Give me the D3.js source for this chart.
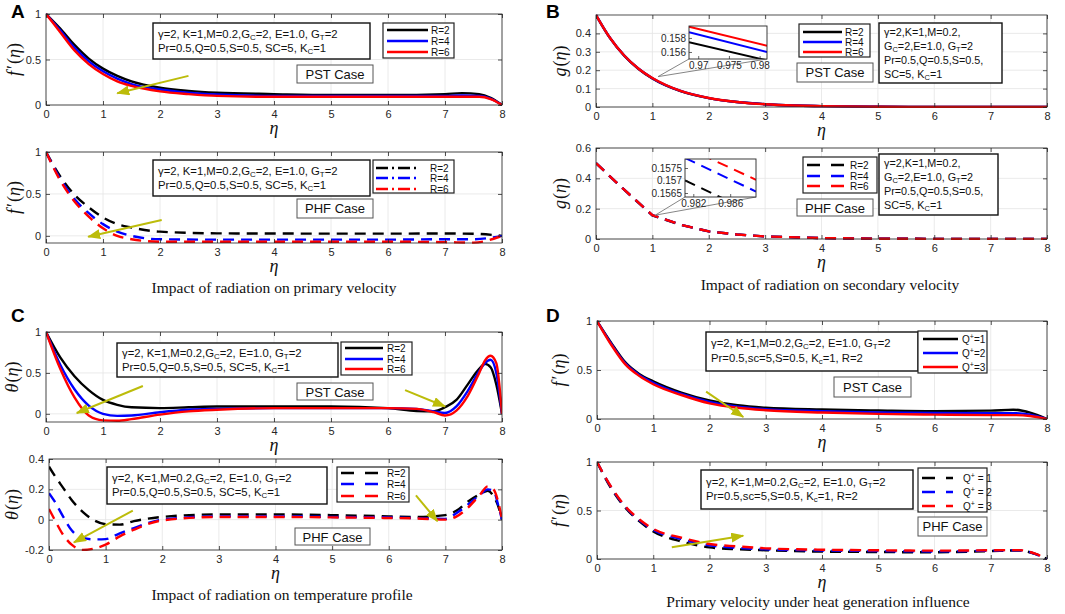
<!DOCTYPE html>
<html><head><meta charset="utf-8">
<script src="https://cdn.jsdelivr.net/npm/d3@7"></script>
<style>body{margin:0;background:#fff}svg{display:block}</style>
</head><body>
<svg id="c" width="1065" height="614"></svg>
<script>
// ---------------- DATA ----------------
const xTicks = [0,1,2,3,4,5,6,7,8];

// A (PST): f'(eta), R = 2, 4, 6
const etaA1 = [0,0.25,0.5,0.75,1,1.25,1.5,2,2.5,3,4,5,6,7,7.3,7.6,7.8,8];
const fA1_R2 = [1,0.84,0.66,0.51,0.40,0.32,0.26,0.19,0.155,0.135,0.12,0.11,0.11,0.12,0.13,0.12,0.08,0];
const fA1_R4 = [1,0.82,0.63,0.48,0.37,0.29,0.23,0.17,0.135,0.115,0.10,0.10,0.10,0.10,0.105,0.10,0.07,0];
const fA1_R6 = [1,0.80,0.60,0.45,0.34,0.26,0.21,0.15,0.12,0.10,0.09,0.09,0.09,0.09,0.09,0.09,0.065,0];

// A (PHF)
const etaA2 = [0,0.25,0.5,0.75,1,1.25,1.5,2,3,4,5,6,7,7.5,8];
const fA2_R2 = [1,0.71,0.49,0.34,0.22,0.14,0.10,0.05,0.03,0.028,0.027,0.027,0.028,0.025,0];
const fA2_R4 = [1,0.68,0.44,0.27,0.14,0.05,0.0,-0.04,-0.045,-0.045,-0.045,-0.045,-0.04,-0.04,0];
const fA2_R6 = [1,0.66,0.41,0.23,0.09,0.0,-0.04,-0.07,-0.07,-0.07,-0.07,-0.07,-0.075,-0.08,0];

// B (PST): g(eta)
const etaB1 = [0,0.25,0.5,0.75,1,1.5,2,2.5,3,3.5,4,5,6,7,8];
const gB1_R2 = [0.5,0.374,0.279,0.208,0.155,0.086,0.048,0.027,0.015,0.008,0.005,0.0015,0.0005,0,0];
const gB1_R4 = [0.5,0.375,0.280,0.209,0.1565,0.087,0.0485,0.027,0.015,0.008,0.005,0.0015,0.0005,0,0];
const gB1_R6 = [0.5,0.375,0.280,0.2095,0.1575,0.0875,0.049,0.0275,0.015,0.008,0.005,0.0015,0.0005,0,0];
const insB1_eta = [0.9685,0.9812];
const insB1_R2 = [0.1574,0.1548];
const insB1_R4 = [0.1588,0.1560];
const insB1_R6 = [0.1596,0.1569];

// B (PHF)
const etaB2 = [0,0.5,1,1.5,2,2.5,3,4,5,6,7,8];
const gB2_R2 = [0.5,0.325,0.156,0.094,0.05,0.03,0.017,0.006,0.002,0.001,0,0];
const gB2_R4 = [0.5,0.325,0.157,0.094,0.05,0.03,0.017,0.006,0.002,0.001,0,0];
const gB2_R6 = [0.5,0.325,0.1575,0.094,0.05,0.03,0.017,0.006,0.002,0.001,0,0];
const insB2_eta = [0.9811,0.9888];
const insB2_R2 = [0.1570,0.15566];
const insB2_R4 = [0.1579,0.15656];
const insB2_R6 = [0.15834,0.15703];

// C (PST): theta(eta)
const etaC1 = [0,0.25,0.5,0.75,1,1.25,1.5,2,2.5,3,4,5,6,6.5,6.8,7,7.2,7.4,7.6,7.7,7.8,7.9,8];
const tC1_R2 = [1,0.69,0.46,0.29,0.17,0.11,0.08,0.07,0.08,0.09,0.09,0.09,0.07,0.035,0.03,0.08,0.17,0.36,0.55,0.61,0.57,0.36,0];
const tC1_R4 = [1,0.60,0.30,0.10,0.00,-0.025,-0.02,0.02,0.05,0.06,0.07,0.07,0.07,0.06,0.03,0.01,0.09,0.28,0.52,0.62,0.66,0.5,0];
const tC1_R6 = [1,0.55,0.20,-0.02,-0.08,-0.085,-0.065,-0.01,0.03,0.05,0.07,0.07,0.07,0.06,0.02,-0.02,0.04,0.22,0.5,0.65,0.71,0.62,0];

// C (PHF)
const etaC2 = [0,0.1,0.25,0.4,0.6,0.8,1,1.25,1.5,2,3,4,5,6,6.5,7,7.2,7.4,7.6,7.75,7.85,7.95,8];
const tC2_R2 = [0.35,0.29,0.21,0.13,0.05,-0.005,-0.03,-0.033,-0.01,0.018,0.035,0.035,0.03,0.022,0.018,0.03,0.06,0.12,0.165,0.19,0.155,0.07,0];
const tC2_R4 = [0.175,0.12,0.02,-0.07,-0.12,-0.13,-0.128,-0.09,-0.055,0.0,0.022,0.022,0.018,0.015,0.01,0.005,0.044,0.1,0.16,0.2,0.19,0.07,0];
const tC2_R6 = [0.07,0.0,-0.1,-0.165,-0.2,-0.19,-0.165,-0.11,-0.066,-0.005,0.018,0.018,0.015,0.011,0.008,0.0,0.022,0.08,0.16,0.22,0.2,0.09,0];

// D (PST): f'(eta), Q+ = 1, 2, 3
const etaD1 = [0,0.25,0.5,0.75,1,1.5,2,2.5,3,4,5,6,7,7.4,7.7,8];
const fD1_Q1 = [1,0.78,0.58,0.46,0.385,0.27,0.19,0.14,0.115,0.097,0.087,0.08,0.085,0.095,0.065,0];
const fD1_Q2 = [1,0.77,0.57,0.45,0.37,0.255,0.175,0.125,0.10,0.08,0.068,0.062,0.06,0.06,0.045,0];
const fD1_Q3 = [1,0.76,0.56,0.44,0.355,0.245,0.16,0.115,0.09,0.066,0.052,0.045,0.04,0.04,0.03,0];

// D (PHF)
const etaD2 = [0,0.25,0.5,0.75,1,1.5,2,2.5,3,4,5,6,7,7.5,7.8,8];
const fD2_Q1 = [1,0.73,0.53,0.39,0.285,0.18,0.12,0.10,0.09,0.076,0.072,0.069,0.082,0.088,0.05,0];
const fD2_Q2 = [1,0.74,0.54,0.40,0.30,0.205,0.14,0.115,0.10,0.088,0.082,0.078,0.086,0.09,0.05,0];
const fD2_Q3 = [1,0.745,0.545,0.41,0.31,0.22,0.155,0.13,0.11,0.096,0.09,0.086,0.09,0.092,0.052,0];

// text content
const legR = ['R=2','R=4','R=6'];
const legQ1 = ['Q^+=1','Q^+=2','Q^+=3'];
const legQ2 = ['Q^+ = 1','Q^+ = 2','Q^+ = 3'];
const parA = ['γ=2, K=1,M=0.2,G_C=2, E=1.0, G_T=2','Pr=0.5,Q=0.5,S=0.5, SC=5, K_C=1'];
const parB = ['γ=2,K=1,M=0.2,','G_C=2,E=1.0, G_T=2','Pr=0.5,Q=0.5,S=0.5,','SC=5, K_C=1'];
const parD = ['γ=2, K=1,M=0.2,G_C=2, E=1.0, G_T=2','Pr=0.5,sc=5,S=0.5, K_c=1, R=2'];
const captions = ['Impact of radiation on primary velocity','Impact of radiation on secondary velocity','Impact of radiation on temperature profile','Primary velocity under heat generation influence'];

// ---------------- DRAWING ----------------
const svg = d3.select('#c');
const SANS = 'Liberation Sans, Arial, sans-serif';
const SERIF = 'Liberation Serif, Times New Roman, serif';
const AX = '#262626';
const ARROW = '#bcbc0a';
const COLORS = ['#000000','#0000ff','#ff0000'];
const DASH = '11,7', DASHDOT = '11,7';

const defs = svg.append('defs');
defs.append('marker').attr('id','ah').attr('markerUnits','userSpaceOnUse')
  .attr('markerWidth',14).attr('markerHeight',12).attr('refX',12).attr('refY',5)
  .attr('orient','auto').append('path').attr('d','M0,0L13,5L0,10Z').attr('fill',ARROW);

function rich(sel, str, fs){
  const parts=[]; let buf=''; let i=0;
  while(i<str.length){const ch=str[i];
    if(ch==='_'||ch==='^'){ if(buf){parts.push(['n',buf]);buf='';} i++; let s;
      if(str[i]==='{'){const j=str.indexOf('}',i); s=str.slice(i+1,j); i=j+1;} else {s=str[i]; i++;}
      parts.push([ch==='_'?'sub':'sup',s]); }
    else {buf+=ch;i++;}
  }
  if(buf) parts.push(['n',buf]);
  let off=0;
  parts.forEach(([k,s])=>{
    const tgt = k==='sub'? fs*0.22 : k==='sup'? -fs*0.4 : 0;
    const ts = sel.append('tspan').text(s).attr('dy',tgt-off);
    if(k!=='n') ts.attr('font-size',fs*0.7);
    off=tgt;
  });
}

function mathLabel(sel, parts){
  parts.forEach(([t,it,dx])=>sel.append('tspan').text(t).attr('font-style',it?'italic':'normal').attr('dx',dx||0));
}
const fpLab = [['f',1],['′',0,2],['(',0,1],['η',1],[')',0]];
const gLab = [['g',1],['(',0,1],['η',1],[')',0]];
const thLab = [['θ',1],['(',0,1],['η',1],[')',0]];

function styleAxis(g){
  g.select('.domain').remove();
  g.selectAll('line').attr('stroke',AX).attr('stroke-width',0.8);
  g.selectAll('text').attr('fill',AX).attr('font-family',SANS).attr('font-size',11);
}

function drawPanel(p){
  const g = svg.append('g');
  const x = d3.scaleLinear().domain([0,8]).range([p.l,p.r]);
  const y = d3.scaleLinear().domain(p.yd).range([p.b,p.t]);
  p.x=x; p.y=y;
  g.append('rect').attr('x',p.l).attr('y',p.t).attr('width',p.r-p.l).attr('height',p.b-p.t).attr('fill','#fff');
  g.selectAll(null).data(xTicks).join('line').attr('x1',d=>x(d)).attr('x2',d=>x(d)).attr('y1',p.t).attr('y2',p.b)
    .attr('stroke','#e4e4e4').attr('stroke-width',0.8);
  g.selectAll(null).data(p.yt).join('line').attr('y1',d=>y(d)).attr('y2',d=>y(d)).attr('x1',p.l).attr('x2',p.r)
    .attr('stroke','#e4e4e4').attr('stroke-width',0.8);
  const cid='clip'+p.id;
  defs.append('clipPath').attr('id',cid).append('rect').attr('x',p.l).attr('y',p.t-1).attr('width',p.r-p.l).attr('height',p.b-p.t+2);
  const line = d3.line().x(d=>x(d[0])).y(d=>y(d[1])).curve(p.curve||d3.curveMonotoneX);
  p.ser.forEach((v,k)=>{
    g.append('path').datum(d3.zip(p.eta,v)).attr('d',line).attr('fill','none')
      .attr('stroke',COLORS[k]).attr('stroke-width',2.4).attr('stroke-dasharray',p.dash||null)
      .attr('clip-path',`url(#${cid})`);
  });
  g.append('g').attr('transform',`translate(0,${p.b})`)
    .call(d3.axisBottom(x).tickValues(xTicks).tickSizeInner(-4).tickSizeOuter(0).tickPadding(5).tickFormat(d=>String(d))).call(styleAxis);
  g.append('g').attr('transform',`translate(0,${p.t})`)
    .call(d3.axisTop(x).tickValues(xTicks).tickSizeInner(-4).tickSizeOuter(0).tickFormat('')).call(styleAxis);
  g.append('g').attr('transform',`translate(${p.l},0)`)
    .call(d3.axisLeft(y).tickValues(p.yt).tickSizeInner(-4).tickSizeOuter(0).tickPadding(5).tickFormat(d=>String(d))).call(styleAxis);
  g.append('g').attr('transform',`translate(${p.r},0)`)
    .call(d3.axisRight(y).tickValues(p.yt).tickSizeInner(-4).tickSizeOuter(0).tickFormat('')).call(styleAxis);
  g.append('rect').attr('x',p.l).attr('y',p.t).attr('width',p.r-p.l).attr('height',p.b-p.t)
    .attr('fill','none').attr('stroke',AX).attr('stroke-width',0.8);
  g.append('text').attr('x',(p.l+p.r)/2).attr('y',p.b+29).attr('text-anchor','middle')
    .attr('font-family',SERIF).attr('font-size',18).attr('font-style','italic').attr('fill','#111').text('η');
  const yl = g.append('text').attr('transform',`translate(${p.ylx},${(p.t+p.b)/2}) rotate(-90)`)
    .attr('text-anchor','middle').attr('font-family',SERIF).attr('font-size',18).attr('fill','#111');
  mathLabel(yl,p.ylab);
  return p;
}

function textBox(b, lines, fs, dy, opts={}){
  svg.append('rect').attr('x',b[0]).attr('y',b[1]).attr('width',b[2]-b[0]).attr('height',b[3]-b[1])
    .attr('fill','#fff').attr('stroke',opts.stroke||'#111').attr('stroke-width',opts.sw||1.4);
  lines.forEach((s,i)=>{
    const t = svg.append('text').attr('x',opts.center?(b[0]+b[2])/2:b[0]+5)
      .attr('y',b[1]+opts.y0+i*dy).attr('font-family',SANS).attr('font-size',fs).attr('fill','#111')
      .attr('text-anchor',opts.center?'middle':'start');
    rich(t,s,fs);
  });
}

function legend(b, labels, lx, tx, ys, dash){
  svg.append('rect').attr('x',b[0]).attr('y',b[1]).attr('width',b[2]-b[0]).attr('height',b[3]-b[1])
    .attr('fill','#fff').attr('stroke','#222').attr('stroke-width',1.2);
  labels.forEach((s,i)=>{
    svg.append('line').attr('x1',lx[0]).attr('x2',lx[1]).attr('y1',ys[i]).attr('y2',ys[i])
      .attr('stroke',COLORS[i]).attr('stroke-width',2.5).attr('stroke-dasharray',dash||null);
    const t=svg.append('text').attr('x',tx).attr('y',ys[i]+3.5).attr('font-family',SANS).attr('font-size',10).attr('fill','#111');
    rich(t,s,10);
  });
}

function arrow(p, from, to){
  svg.append('line').attr('x1',p.x(from[0])).attr('y1',p.y(from[1])).attr('x2',p.x(to[0])).attr('y2',p.y(to[1]))
    .attr('stroke',ARROW).attr('stroke-width',2).attr('marker-end','url(#ah)');
}

function inset(p, ins){
  const X = d3.scaleLinear().domain(ins.xd).range([ins.l,ins.r]);
  const Y = d3.scaleLinear().domain(ins.yd).range([ins.b,ins.t]);
  const px=p.x(ins.pt[0]), py=p.y(ins.pt[1]);
  [[ins.l,ins.b],[ins.r,ins.b]].forEach(c=>svg.append('line').attr('x1',c[0]).attr('y1',c[1]).attr('x2',px).attr('y2',py)
    .attr('stroke','#777').attr('stroke-width',0.9));
  const g=svg.append('g');
  g.append('rect').attr('x',ins.l).attr('y',ins.t).attr('width',ins.r-ins.l).attr('height',ins.b-ins.t).attr('fill','#fff');
  const cid='clip'+ins.id;
  defs.append('clipPath').attr('id',cid).append('rect').attr('x',ins.l).attr('y',ins.t).attr('width',ins.r-ins.l).attr('height',ins.b-ins.t);
  const line=d3.line().x(d=>X(d[0])).y(d=>Y(d[1]));
  ins.ser.forEach((v,k)=>g.append('path').datum(d3.zip(ins.eta,v)).attr('d',line).attr('fill','none')
    .attr('stroke',COLORS[k]).attr('stroke-width',2).attr('stroke-dasharray',ins.dash||null).attr('clip-path',`url(#${cid})`));
  const st = s=>{ s.select('.domain').remove(); s.selectAll('line').attr('stroke',AX).attr('stroke-width',0.7);
    s.selectAll('text').attr('fill',AX).attr('font-family',SANS).attr('font-size',10); };
  g.append('g').attr('transform',`translate(0,${ins.b})`).call(d3.axisBottom(X).tickValues(ins.xt).tickSizeInner(-3).tickSizeOuter(0).tickPadding(3).tickFormat(d=>String(d))).call(st);
  g.append('g').attr('transform',`translate(${ins.l},0)`).call(d3.axisLeft(Y).tickValues(ins.yt).tickSizeInner(-3).tickSizeOuter(0).tickPadding(3).tickFormat(d=>String(d))).call(st);
  g.append('rect').attr('x',ins.l).attr('y',ins.t).attr('width',ins.r-ins.l).attr('height',ins.b-ins.t)
    .attr('fill','none').attr('stroke',AX).attr('stroke-width',0.9);
}

function letter(s,x,y){ svg.append('text').attr('x',x).attr('y',y).attr('font-family',SANS).attr('font-weight','bold')
  .attr('font-size',19).attr('fill','#000').text(s); }
function caption(s,x,y){ svg.append('text').attr('x',x).attr('y',y).attr('text-anchor','middle').attr('font-family',SERIF)
  .attr('font-size',15.5).attr('fill','#111').text(s); }

// ---- Panel A ----
const pA1 = drawPanel({id:'A1',l:46,r:502,t:14,b:105,yd:[0,1],yt:[0,0.5,1],eta:etaA1,ser:[fA1_R2,fA1_R4,fA1_R6],ylab:fpLab,ylx:20});
textBox([153,23,370,59],parA,11.3,14.5,{y0:14.5});
legend([383,23,454,58],legR,[387,428],431,[30,41,52]);
textBox([297,65,373,83],['PST Case'],13,0,{y0:14,center:true,stroke:'#555',sw:1});
arrow(pA1,[2.5,0.32],[1.25,0.13]);

const pA2 = drawPanel({id:'A2',l:46,r:502,t:152,b:243,yd:[-0.085,1],yt:[0,0.5,1],eta:etaA2,ser:[fA2_R2,fA2_R4,fA2_R6],ylab:fpLab,ylx:20,dash:DASHDOT});
textBox([153,160,370,196],parA,11.3,14.5,{y0:14.5});
legend([373,160,454,193],legR,[376,417],430,[168,178,189],'12,4,2,4');
textBox([297,199,373,218],['PHF Case'],13,0,{y0:14,center:true,stroke:'#555',sw:1});
arrow(pA2,[2.03,0.19],[0.74,-0.01]);

// ---- Panel B ----
const pB1 = drawPanel({id:'B1',l:596,r:1047,t:15,b:107,yd:[0,0.5],yt:[0,0.1,0.2,0.3,0.4],eta:etaB1,ser:[gB1_R2,gB1_R4,gB1_R6],ylab:gLab,ylx:566});
inset(pB1,{id:'iB1',l:689,r:767,t:26,b:59,xd:[0.9685,0.9812],yd:[0.1550,0.1597],xt:[0.97,0.975,0.98],yt:[0.156,0.158],
  eta:insB1_eta,ser:[insB1_R2,insB1_R4,insB1_R6],pt:[1.1,0.165]});
legend([799,24,870,57],legR,[803,842],845,[32,42,52]);
textBox([879,23,1002,83],parB,10.8,14,{y0:13});
textBox([797,63,873,82],['PST Case'],13,0,{y0:14,center:true,stroke:'#555',sw:1});

const pB2 = drawPanel({id:'B2',l:596,r:1047,t:148,b:239,yd:[0,0.6],yt:[0,0.2,0.4,0.6],eta:etaB2,ser:[gB2_R2,gB2_R4,gB2_R6],ylab:gLab,ylx:566,dash:DASH,curve:d3.curveLinear});
inset(pB2,{id:'iB2',l:685,r:756,t:159,b:197,xd:[0.9811,0.9888],yd:[0.15634,0.15786],xt:[0.982,0.986],yt:[0.1565,0.157,0.1575],
  eta:insB2_eta,ser:[insB2_R2,insB2_R4,insB2_R6],pt:[1.05,0.157],dash:DASH});
legend([803,157,877,193],legR,[807,845],850,[165,176,186],'13,11');
textBox([879,154,998,215],parB,10.8,14,{y0:12.5});
textBox([797,199,873,216],['PHF Case'],13,0,{y0:13.5,center:true,stroke:'#555',sw:1});

// ---- Panel C ----
const pC1 = drawPanel({id:'C1',l:46,r:502,t:332,b:422,yd:[-0.1,1],yt:[0,0.5,1],eta:etaC1,ser:[tC1_R2,tC1_R4,tC1_R6],ylab:thLab,ylx:18});
textBox([117,343,338,377],parA,11.3,14.5,{y0:13.5});
legend([341,342,412,375],legR,[345,383],387,[348,359,369]);
textBox([297,383,373,400],['PST Case'],13,0,{y0:13.5,center:true,stroke:'#555',sw:1});
arrow(pC1,[1.7,0.34],[0.54,0.01]);
arrow(pC1,[6.3,0.29],[7.0,0.09]);

const pC2 = drawPanel({id:'C2',l:49,r:502,t:459,b:550,yd:[-0.2,0.4],yt:[-0.2,0,0.2,0.4],eta:etaC2,ser:[tC2_R2,tC2_R4,tC2_R6],ylab:thLab,ylx:18,dash:DASH});
textBox([107,467,327,504],parA,11.3,14.5,{y0:14.5});
legend([337,467,409,502],legR,[341,378],387,[473,484,496],'13,11');
textBox([295,528,370,545],['PHF Case'],13,0,{y0:13.5,center:true,stroke:'#555',sw:1});
arrow(pC2,[1.48,0.06],[0.44,-0.15]);
arrow(pC2,[6.48,0.16],[6.86,-0.01]);

// ---- Panel D ----
const pD1 = drawPanel({id:'D1',l:597,r:1047,t:321,b:419,yd:[0,1],yt:[0,0.5,1],eta:etaD1,ser:[fD1_Q1,fD1_Q2,fD1_Q3],ylab:fpLab,ylx:565});
textBox([706,332,918,371],parD,11.3,14.5,{y0:15});
legend([918,331,987,373],legQ1,[923,958],962,[339,353,367]);
textBox([834,377,911,397],['PST Case'],13,0,{y0:14.5,center:true,stroke:'#555',sw:1});
arrow(pD1,[1.94,0.28],[2.6,0.02]);

const pD2 = drawPanel({id:'D2',l:597,r:1047,t:462,b:559,yd:[0,1],yt:[0,0.5,1],eta:etaD2,ser:[fD2_Q1,fD2_Q2,fD2_Q3],ylab:fpLab,ylx:565,dash:DASH});
textBox([701,470,913,509],parD,11.3,14.5,{y0:15.5});
legend([918,468,987,512],legQ2,[922,953],963,[478,492,506],'13,11');
textBox([918,517,987,536],['PHF Case'],13,0,{y0:14,center:true,stroke:'#555',sw:1});
arrow(pD2,[1.33,0.12],[2.6,0.24]);

// letters & captions
letter('A',11,18); letter('B',546,18); letter('C',11,322); letter('D',546,322);
caption(captions[0],274,293); caption(captions[1],830,290); caption(captions[2],282,600); caption(captions[3],818,607);
</script>
</body></html>
